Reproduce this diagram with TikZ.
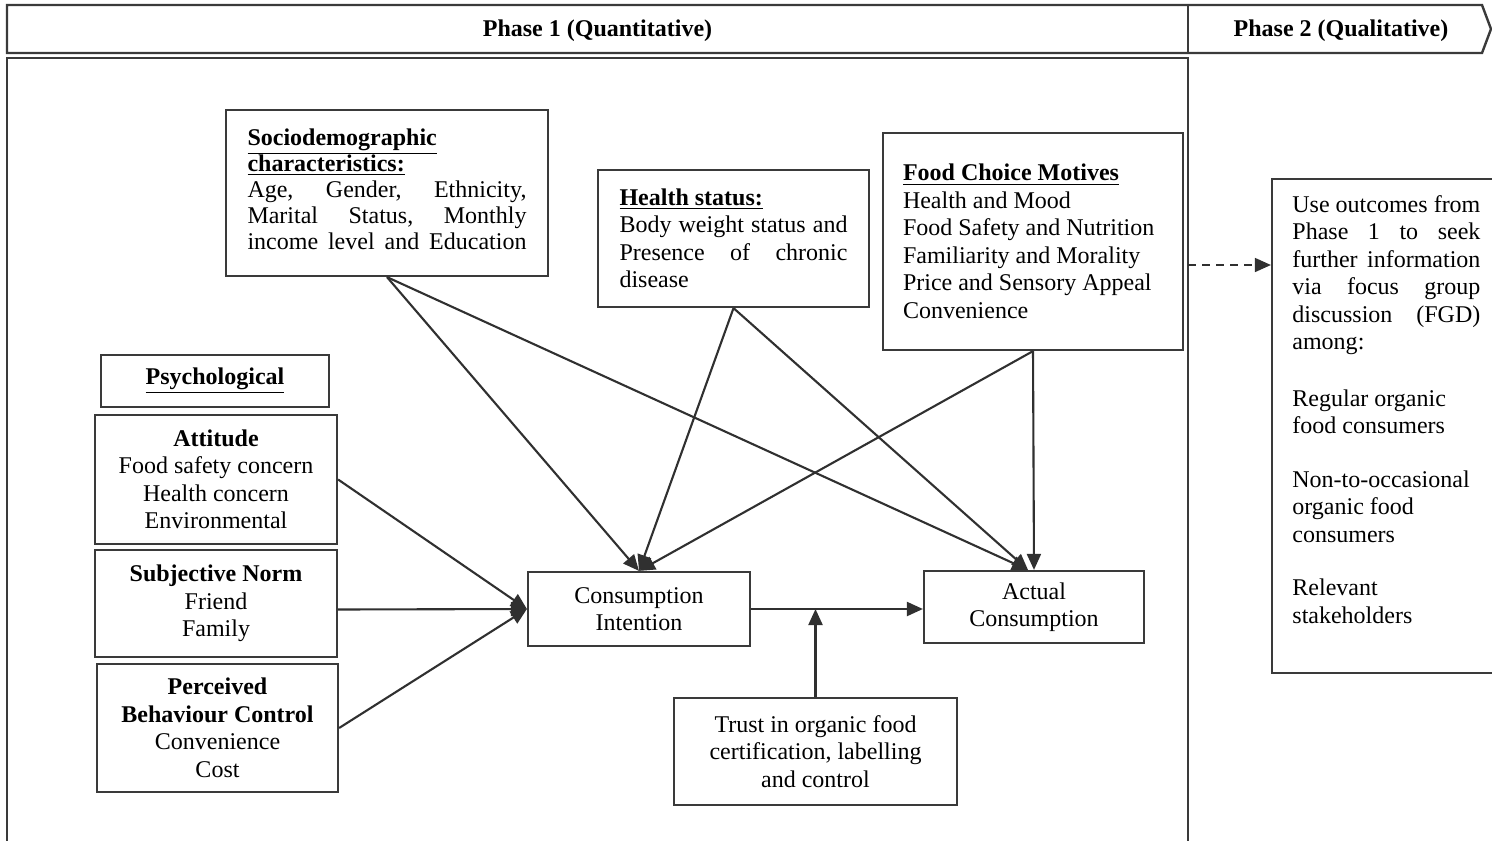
\documentclass[tikz,border=0pt]{standalone}
\usepackage{fontspec}
\setmainfont{Liberation Serif}
\usetikzlibrary{arrows.meta,calc}
\newcommand{\jst}[2]{\leavevmode\hbox to #1{#2}}
\definecolor{boxcol}{HTML}{3A3A3A}
\definecolor{arrcol}{HTML}{303030}
\tikzset{
  box/.style={draw=boxcol, line width=1.1pt, fill=white, inner sep=0pt,
    font=\fontsize{12}{13.75}\selectfont},
  conn/.style={draw=arrcol, line width=1.05pt, -{Triangle[length=8pt,width=7pt]}},
  banner/.style={draw=boxcol, line width=1.2pt},
  plain/.style={inner sep=0pt, font=\fontsize{12}{13.75}\selectfont},
}
\begin{document}
\begin{tikzpicture}[x=0.5pt,y=-0.5pt]
\useasboundingbox (0,0) rectangle (1492,840);
% banner
\draw[banner, fill=white] (7,5) -- (1482,5) -- (1491,29) -- (1482,53) -- (7,53) -- cycle;
\draw[banner] (1188,5) -- (1188,53);
\node[plain] (ph1) at (597.5,31) {\textbf{Phase 1 (Quantitative)}};
\node[plain] (ph2) at (1341,31) {\textbf{Phase 2 (Qualitative)}};
% frame
\node[box, minimum width=590.5pt, minimum height=395pt] (frame) at (597.5,453) {};
% top boxes
\node[box, minimum width=161pt, minimum height=83pt] (socio) at (387,193) {};
\node[inner sep=0pt, text width=139.5pt, align=flush left,
  font=\fontsize{12}{13}\selectfont] (sociotext) at (387,189)
  {\underline{\textbf{Sociodemographic}}\\
   \underline{\textbf{characteristics:}}\\
   \jst{139.5pt}{Age,\hfill Gender,\hfill Ethnicity,}\\
   \jst{139.5pt}{Marital\hfill Status,\hfill Monthly}\\
   \jst{139.5pt}{income\hfill level\hfill and\hfill Education}};
\node[box, minimum width=135.5pt, minimum height=68.5pt, text width=114pt, align=flush left] (health) at (733.5,238.5)
  {\underline{\textbf{Health status:}}\\
   \jst{114pt}{Body\hfill weight\hfill status\hfill and}\\
   \jst{114pt}{Presence\hfill of\hfill chronic}\\
   disease};
\node[box, minimum width=150pt, minimum height=108.5pt, text width=130pt, align=flush left] (fcm) at (1033,241.5)
  {\underline{\textbf{Food Choice Motives}}\\
   Health and Mood\\
   Food Safety and Nutrition\\
   Familiarity and Morality\\
   Price and Sensory Appeal\\
   Convenience};
% psychological
\node[box, minimum width=114pt, minimum height=26pt] (psych) at (215,381)
  {\underline{\textbf{Psychological}}};
\node[box, minimum width=121pt, minimum height=64.5pt, align=center] (att) at (216,479.5)
  {\textbf{Attitude}\\Food safety concern\\Health concern\\Environmental};
\node[box, minimum width=121pt, minimum height=53.5pt, align=center] (sn) at (216,603.5)
  {\textbf{Subjective Norm}\\Friend\\Family};
\node[box, minimum width=120.5pt, minimum height=64pt, align=center] (pbc) at (217.5,728)
  {\textbf{Perceived}\\\textbf{Behaviour Control}\\Convenience\\Cost};
% centre
\node[box, minimum width=111pt, minimum height=37pt, align=center] (ci) at (639,609)
  {Consumption\\Intention};
\node[box, minimum width=110pt, minimum height=36pt, align=center] (ac) at (1034,607)
  {Actual\\Consumption};
\node[box, minimum width=141.5pt, minimum height=53.5pt, align=center] (trust) at (815.5,751.5)
  {Trust in organic food\\certification, labelling\\and control};
% phase 2
\node[box, minimum width=116.5pt, minimum height=247pt] (p2) at (1388.5,426) {};
\node[plain, anchor=north west, text width=94pt, align=flush left] (p2text) at (1292,195)
  {\jst{94pt}{Use\hfill outcomes\hfill from}\\
   \jst{94pt}{Phase\hfill 1\hfill to\hfill seek}\\
   \jst{94pt}{further\hfill information}\\
   \jst{94pt}{via\hfill focus\hfill group}\\
   \jst{94pt}{discussion\hfill (FGD)}\\
   among:\\[14.5pt]
   Regular organic\\
   food consumers\\[13pt]
   Non-to-occasional\\
   organic food\\
   consumers\\[13pt]
   Relevant\\
   stakeholders};
% connectors
\draw[conn] (socio.south) -- (ci.north);
\draw[conn] (socio.south) -- ([xshift=-3pt]ac.north);
\draw[conn] (health.south) -- (ci.north);
\draw[conn] (health.south) -- ([xshift=-3pt]ac.north);
\draw[conn] (fcm.south) -- (ci.north);
\draw[conn] (fcm.south) -- (ac.north);
\draw[conn] (att.east) -- (ci.west);
\draw[conn] ([yshift=-3pt]sn.east) -- (ci.west);
\draw[conn] (pbc.east) -- (ci.west);
\draw[conn] (ci.east) -- (ci.east -| ac.west);
\coordinate (mid) at (ci.east -| trust.north);
\draw[conn] (trust.north) -- (mid);
\coordinate (dstart) at (1188,265);
\draw[conn, line width=0.8pt, dash pattern=on 4pt off 3pt] (dstart) -- (dstart -| p2.west);
\end{tikzpicture}
\end{document}
